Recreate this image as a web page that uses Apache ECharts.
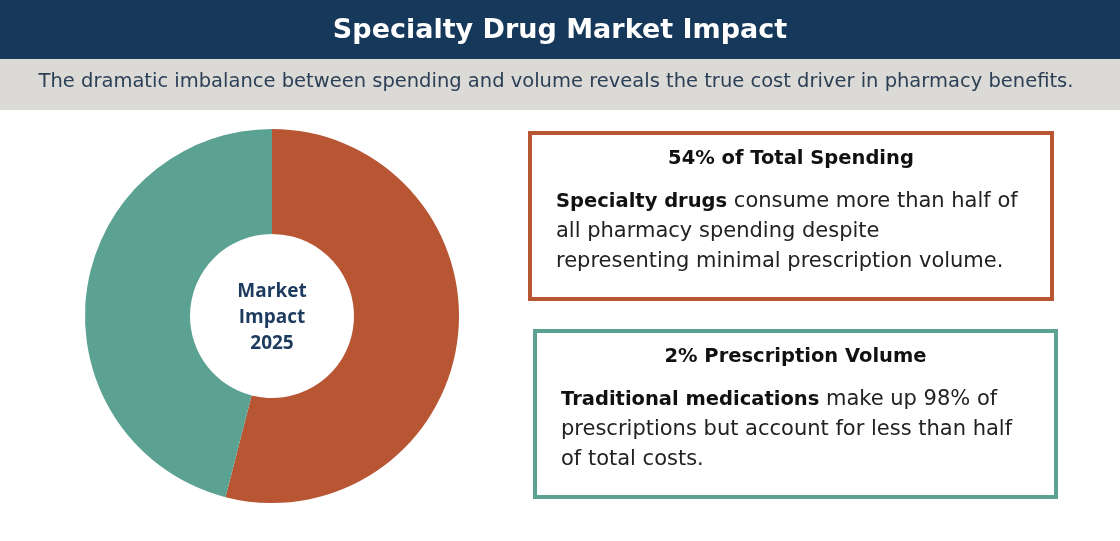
<!DOCTYPE html>
<html>
<head>
<meta charset="utf-8">
<script src="https://cdn.jsdelivr.net/npm/echarts@6/dist/echarts.min.js"></script>
<style>
  html, body { margin: 0; padding: 0; background: #ffffff; }
  #chart { width: 1120px; height: 541px; }
</style>
</head>
<body>
<div id="chart"></div>
<script>
  // share of total pharmacy spending
  var segmentNames = ["Specialty Drugs", "Traditional Medications"];
  var segmentValues = [54, 46];
  var segmentColors = ["#b85634", "#5ba292"];

  var titleText = "Specialty Drug Market Impact";
  var subtitleText = "The dramatic imbalance between spending and volume reveals the true cost driver in pharmacy benefits.";
  var centerLines = ["Market", "Impact", "2025"];

  var card1Title = "54% of Total Spending";
  var card1Lines = [
    ["Specialty drugs", " consume more than half of"],
    ["", "all pharmacy spending despite"],
    ["", "representing minimal prescription volume."]
  ];
  var card2Title = "2% Prescription Volume";
  var card2Lines = [
    ["Traditional medications", " make up 98% of"],
    ["", "prescriptions but account for less than half"],
    ["", "of total costs."]
  ];

  var FONT = "'DejaVu Sans', 'Open Sans', sans-serif";
  var CENTER_FONT = "'Open Sans', 'Noto Sans', sans-serif";

  var pieData = [];
  for (var i = 0; i < segmentNames.length; i++) {
    pieData.push({ name: segmentNames[i], value: segmentValues[i], itemStyle: { color: segmentColors[i] } });
  }

  function richLines(lines) {
    var parts = [];
    for (var i = 0; i < lines.length; i++) {
      var s = "";
      if (lines[i][0]) s += "{b|" + lines[i][0] + "}";
      s += "{n|" + lines[i][1] + "}";
      parts.push(s);
    }
    return parts.join("\n");
  }

  function card(x, y, w, h, color, title, lines) {
    return [
      {
        type: "rect",
        shape: { x: x, y: y, width: w, height: h },
        style: { fill: "#ffffff", stroke: color, lineWidth: 4 }
      },
      {
        type: "text",
        x: x + w / 2, y: y + 26,
        style: {
          text: title, fill: "#111111", font: "bold 19.5px " + FONT,
          align: "center", verticalAlign: "middle"
        }
      },
      {
        type: "text",
        x: x + 26, y: y + 54,
        style: {
          text: richLines(lines),
          verticalAlign: "top",
          rich: {
            b: { fontFamily: FONT, fontWeight: "bold", fontSize: 19.5, lineHeight: 30, fill: "#111111" },
            n: { fontFamily: FONT, fontSize: 21, lineHeight: 30, fill: "#222222" }
          }
        }
      }
    ];
  }

  var chart = echarts.init(document.getElementById("chart"));
  var graphics = [
    { type: "rect", shape: { x: 0, y: 0, width: 1120, height: 59 }, style: { fill: "#16385b" } },
    { type: "rect", shape: { x: 0, y: 59, width: 1120, height: 51 }, style: { fill: "#dcdad6" } },
    {
      type: "text", x: 560, y: 31,
      style: { text: titleText, fill: "#ffffff", font: "bold 27px " + FONT, align: "center", verticalAlign: "middle" }
    },
    {
      type: "text", x: 556, y: 82,
      style: { text: subtitleText, fill: "#2b3f56", font: "19.5px " + FONT, align: "center", verticalAlign: "middle" }
    },
    {
      type: "text", x: 272, y: 318, z: 10,
      style: {
        text: centerLines.join("\n"), fill: "#1d3b5e", font: "bold 19px " + CENTER_FONT,
        lineHeight: 26, align: "center", verticalAlign: "middle"
      }
    }
  ];
  graphics = graphics.concat(card(530, 133, 522, 166, "#b85634", card1Title, card1Lines));
  graphics = graphics.concat(card(535, 331, 521, 166, "#5ba292", card2Title, card2Lines));

  chart.setOption({
    backgroundColor: "#ffffff",
    animation: false,
    graphic: graphics,
    series: [{
      type: "pie",
      center: [272, 316],
      radius: [82, 187],
      startAngle: 90,
      clockwise: true,
      label: { show: false },
      labelLine: { show: false },
      emphasis: { disabled: true },
      itemStyle: { borderWidth: 0 },
      data: pieData
    }]
  });
</script>
</body>
</html>
